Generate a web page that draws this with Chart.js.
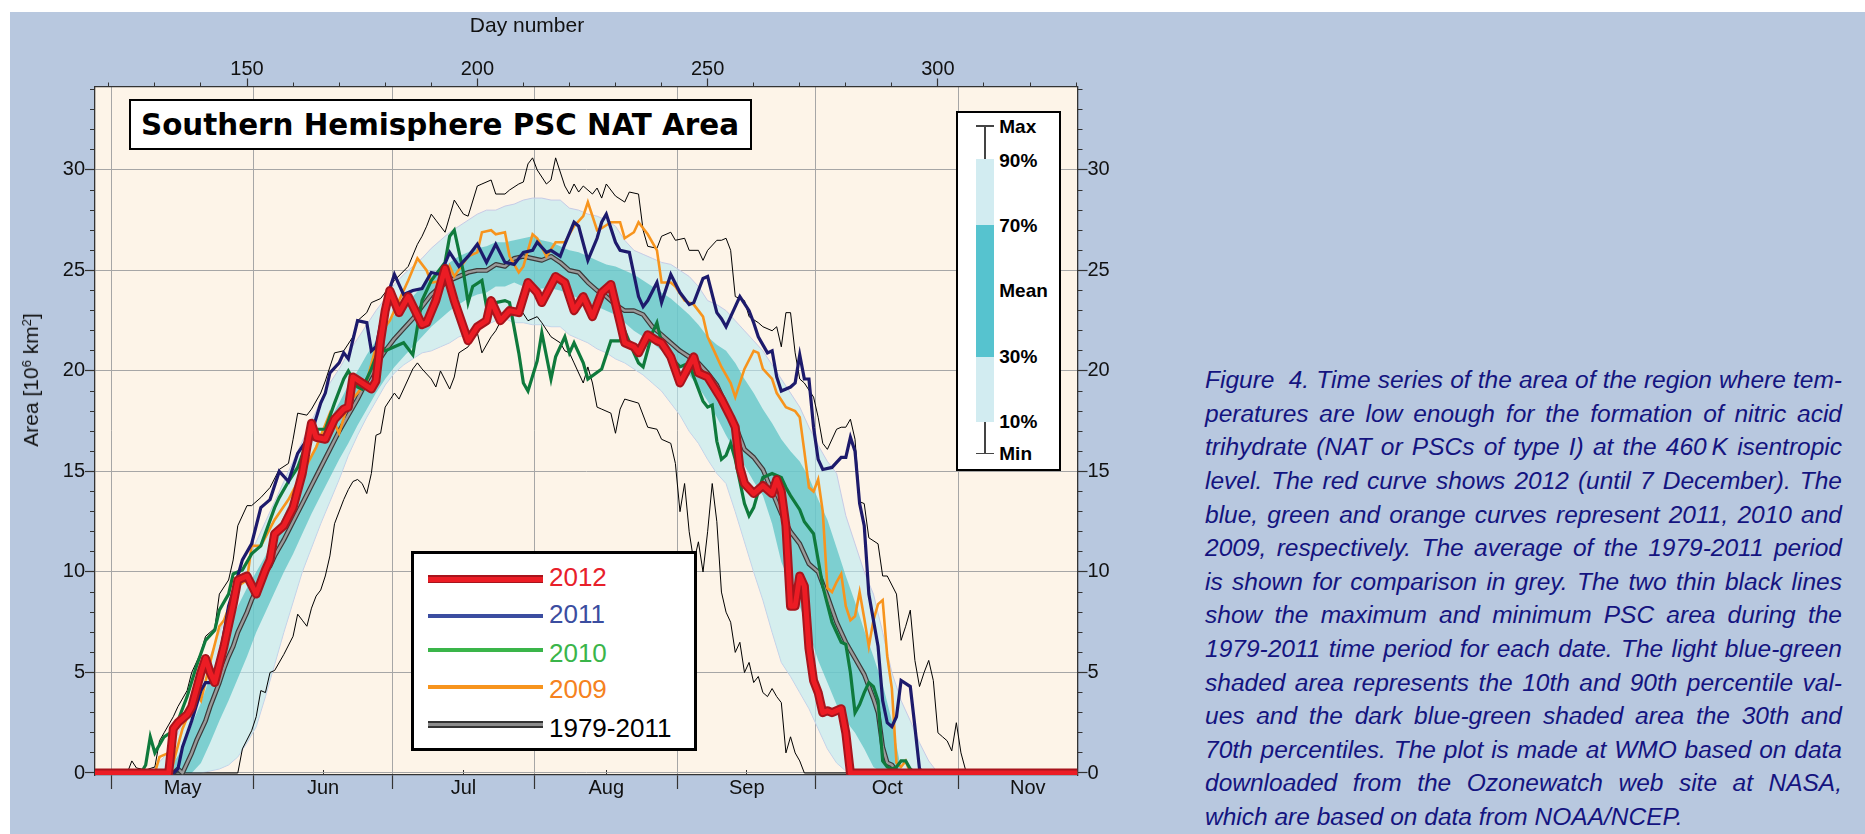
<!DOCTYPE html>
<html lang="en">
<head>
<meta charset="utf-8">
<title>Southern Hemisphere PSC NAT Area</title>
<script src="https://cdn.jsdelivr.net/npm/chart.js@4.4.1/dist/chart.umd.min.js"></script>
<style>
  html, body { margin: 0; padding: 0; background: #ffffff; }
  body { position: relative; width: 1865px; height: 834px; overflow: hidden; font-family: 'Liberation Sans', Arial, sans-serif; }
  #panel { position: absolute; left: 10px; top: 12px; width: 1855px; height: 822px; background: #b8c8df; }
  #chartWrap { position: absolute; left: 0; top: 0; width: 1130px; height: 834px; }
  .abs { position: absolute; }
  #dayTitle { left: 527px; top: 13px; transform: translateX(-50%); font-size: 21px; line-height: 24px; color: #111; white-space: nowrap; }
  #areaTitle { left: 31px; top: 380px; transform: translate(-50%, -50%) rotate(-90deg); font-size: 21px; line-height: 24px; color: #111; white-space: nowrap; }
  #areaTitle sup { font-size: 13px; vertical-align: 7px; line-height: 0; }
  #titleBox { left: 128.5px; top: 98.5px; width: 623px; height: 51px; box-sizing: border-box; border: 2px solid #000; background: #fff; overflow: hidden; }
  #titleText { position: absolute; left: 50%; top: 50%; transform-origin: 0 0; font-family: 'DejaVu Sans Condensed', 'DejaVu Sans', sans-serif; font-weight: bold; font-size: 31px; line-height: 31px; white-space: nowrap; color: #000; }
  #legend { left: 410.7px; top: 550.7px; width: 286.6px; height: 200px; box-sizing: border-box; border: 3px solid #000; background: #fff; }
  .sw { position: absolute; left: 14px; width: 115px; }
  .sw .in { position: absolute; left: 0; right: 0; }
  .lt { position: absolute; left: 135.3px; font-size: 26px; line-height: 26px; white-space: nowrap; }
  #pctLegend { left: 955.7px; top: 111px; width: 105px; height: 360px; box-sizing: border-box; border: 2px solid #000; background: #fff; }
  .pl { position: absolute; left: 41.6px; font-size: 19px; line-height: 19px; font-weight: bold; color: #000; white-space: nowrap; }
  #caption { left: 1205px; top: 363.3px; width: 637px; color: #14147f; font-style: italic; font-size: 24.5px; }
  #caption .ln { display: block; height: 33.6px; line-height: 33.6px; white-space: pre; }
</style>
</head>
<body>
<div id="panel"></div>
<div id="chartWrap"><canvas id="psc" width="1130" height="834"></canvas></div>

<div id="dayTitle" class="abs">Day number</div>
<div id="areaTitle" class="abs">Area [10<sup>6</sup> km<sup>2</sup>]</div>

<div id="titleBox" class="abs"><span id="titleText">Southern Hemisphere PSC NAT Area</span></div>

<div id="legend" class="abs">
  <div class="sw" style="top:21.6px;height:8px;background:#a8141c;"><div class="in" style="top:1.5px;height:5px;background:#ec1c24;"></div></div>
  <div class="sw" style="top:60.3px;height:4px;background:#3b4da0;"></div>
  <div class="sw" style="top:94.3px;height:4px;background:#3ab54a;"></div>
  <div class="sw" style="top:131px;height:4px;background:#f7941d;"></div>
  <div class="sw" style="top:167.8px;height:7px;background:#333333;"><div class="in" style="top:2px;height:3px;background:#8c8c8c;"></div></div>
  <div class="lt" style="top:10.3px;color:#e8202a;">2012</div>
  <div class="lt" style="top:47.6px;color:#3b4da0;">2011</div>
  <div class="lt" style="top:86px;color:#3ab54a;">2010</div>
  <div class="lt" style="top:122.6px;color:#f58220;">2009</div>
  <div class="lt" style="top:161px;color:#000;">1979-2011</div>
</div>

<div id="pctLegend" class="abs">
  <div class="abs" style="left:26.5px;top:13px;width:1.5px;height:327.3px;background:#444;"></div>
  <div class="abs" style="left:18.3px;top:12.3px;width:18px;height:1.5px;background:#444;"></div>
  <div class="abs" style="left:18.3px;top:339.6px;width:18px;height:1.5px;background:#444;"></div>
  <div class="abs" style="left:18.3px;top:46px;width:18px;height:262.7px;background:#d2ecf1;"></div>
  <div class="abs" style="left:18.3px;top:112px;width:18px;height:131.7px;background:#56c3cf;"></div>
  <div class="pl" style="top:3.6px;">Max</div>
  <div class="pl" style="top:37.6px;">90%</div>
  <div class="pl" style="top:102.6px;">70%</div>
  <div class="pl" style="top:167.6px;">Mean</div>
  <div class="pl" style="top:234.2px;">30%</div>
  <div class="pl" style="top:299.2px;">10%</div>
  <div class="pl" style="top:330.9px;">Min</div>
</div>

<div id="caption" class="abs">
<span class="ln">Figure  4. Time series of the area of the region where tem-</span>
<span class="ln">peratures are low enough for the formation of nitric acid</span>
<span class="ln">trihydrate (NAT or PSCs of type I) at the 460&#8201;K isentropic</span>
<span class="ln">level. The red curve shows 2012 (until 7 December). The</span>
<span class="ln">blue, green and orange curves represent 2011, 2010 and</span>
<span class="ln">2009, respectively. The average of the 1979-2011 period</span>
<span class="ln">is shown for comparison in grey. The two thin black lines</span>
<span class="ln">show the maximum and minimum PSC area during the</span>
<span class="ln">1979-2011 time period for each date. The light blue-green</span>
<span class="ln">shaded area represents the 10th and 90th percentile val-</span>
<span class="ln">ues and the dark blue-green shaded area the 30th and</span>
<span class="ln">70th percentiles. The plot is made at WMO based on data</span>
<span class="ln">downloaded from the Ozonewatch web site at NASA,</span>
<span class="ln">which are based on data from NOAA/NCEP.</span>
</div>

<script>
// ---- Axis definitions (day of year, area in million km²) ----
const monthLabels = ['May', 'Jun', 'Jul', 'Aug', 'Sep', 'Oct', 'Nov'];
const monthStartDays = [121, 152, 182, 213, 244, 274, 305, 335];
const dayLabelTicks = [150, 200, 250, 300];
const dayMinorTicks = [120, 130, 140, 150, 160, 170, 180, 190, 200, 210, 220, 230, 240, 250, 260, 270, 280, 290, 300, 310, 320, 330];
const areaLabelTicks = [0, 5, 10, 15, 20, 25, 30];
const areaMinorTicks = [0, 1, 2, 3, 4, 5, 6, 7, 8, 9, 10, 11, 12, 13, 14, 15, 16, 17, 18, 19, 20, 21, 22, 23, 24, 25, 26, 27, 28, 29, 30, 31, 32, 33, 34];

// ---- Daily PSC NAT area, [day, area] ----
const area2012 = [[117,0],[133,0],[134,2.2],[135,2.5],[137,2.9],[138,3.3],[140,5.0],[141,5.7],[142,5.0],[143,4.5],[145,6.3],[147,8.4],[148,9.6],[150,9.8],[152,8.9],[154,10.1],[155,10.6],[156,11.9],[158,12.3],[160,13.2],[162,14.9],[163,16.2],[164,17.4],[165,16.7],[167,16.6],[169,17.6],[171,18.1],[172,18.2],[173,19.7],[175,19.4],[177,19.1],[178,19.5],[179,21.5],[180,23.0],[181,24.0],[183,22.9],[185,23.7],[188,22.3],[189,22.4],[191,23.5],[193,25.1],[195,23.5],[198,21.5],[200,22.2],[202,22.5],[203,23.5],[205,22.5],[207,23.0],[209,22.9],[211,24.4],[213,23.9],[214,23.4],[217,24.7],[219,24.4],[221,23.0],[223,23.7],[225,22.7],[227,23.9],[229,24.3],[231,22.4],[232,21.4],[234,21.2],[235,20.9],[237,21.8],[239,21.5],[240,21.4],[242,20.7],[244,19.4],[247,20.7],[248,19.9],[250,19.7],[253,18.6],[255,17.7],[256,17.2],[257,15.2],[258,14.4],[260,13.9],[262,14.3],[264,13.9],[265,14.6],[266,14.0],[267,12.3],[268,8.3],[269,8.3],[270,9.8],[271,9.3],[272,6.2],[273,4.6],[274,4.0],[275,3.0],[276,3.1],[277,3.0],[279,3.2],[280,2.0],[281,0],[330.3,0]];

const area2011 = [[117,0],[134,0],[135,0.2],[136,1.3],[138,2.6],[140,4.1],[141,4.5],[142,4.5],[144,5.6],[146,8.3],[148,9.8],[149,10.6],[151,11.4],[153,13.2],[155,13.6],[157,15.0],[159,14.5],[161,15.9],[164,16.9],[166,18.4],[167,18.9],[168,19.9],[170,20.4],[171,20.9],[172,20.6],[174,22.5],[176,22.4],[177,21.0],[178,21.2],[180,23.4],[182,24.8],[184,23.8],[186,24.0],[188,24.1],[189,24.5],[190,24.9],[192,24.8],[194,25.9],[196,25.2],[198,25.7],[200,26.3],[202,25.4],[204,26.3],[206,25.4],[208,25.3],[210,25.9],[212,26.0],[213,26.4],[215,25.9],[216,26.0],[218,25.7],[219,26.3],[221,27.4],[222,27.2],[224,25.5],[226,26.6],[227,27.4],[228,27.8],[230,26.4],[231,26.0],[233,25.9],[235,23.7],[236,23.2],[237,23.5],[239,24.4],[240,23.4],[242,24.8],[244,23.9],[246,23.3],[247,23.4],[249,24.6],[250,24.7],[252,22.9],[253,22.6],[254,22.2],[256,23.2],[257,23.7],[259,23.0],[260,22.4],[261,21.7],[263,20.9],[264,21.0],[265,19.7],[266,19.0],[268,19.2],[269,19.4],[270,20.8],[271,19.6],[272,19.6],[273,17.2],[274,15.6],[275,15.1],[277,15.2],[279,15.7],[280,15.7],[281,16.7],[282,16.0],[283,13.4],[284,12.3],[285,8.9],[287,6.3],[288,3.6],[289,2.5],[290,2.3],[291,2.8],[292,4.6],[294,4.3],[295,2.3],[296,0.2],[297,0],[330.3,0]];

const area2010 = [[117,0],[127,0],[128,0.4],[129,1.8],[130,1.0],[132,1.8],[134,2.1],[135,2.6],[137,3.8],[139,5.3],[141,6.6],[143,7.1],[144,8.1],[146,8.9],[147,9.9],[149,10.1],[151,10.9],[153,11.3],[156,13.2],[157,13.7],[159,14.5],[161,15.2],[164,17.1],[167,17.1],[169,18.4],[171,19.6],[172,20.0],[174,19.2],[175,19.1],[177,20.1],[179,21.3],[180,21.0],[182,21.2],[184,21.4],[186,20.8],[187,22.2],[188,23.5],[190,24.5],[193,25.4],[194,26.7],[195,27.0],[197,24.9],[198,23.4],[199,24.2],[201,24.5],[202,23.2],[204,23.4],[206,23.5],[207,23.4],[209,20.9],[210,19.4],[211,19.0],[213,20.5],[214,21.9],[216,19.6],[217,20.7],[219,21.7],[220,20.9],[221,21.4],[223,20.4],[224,19.6],[227,20.1],[229,21.5],[231,21.5],[232,22.0],[234,20.9],[235,20.4],[236,20.2],[238,21.9],[239,22.4],[240,21.4],[242,20.7],[244,20.2],[246,20.4],[247,19.7],[249,18.5],[250,18.2],[251,18.3],[252,16.5],[253,15.6],[254,15.8],[255,16.4],[256,15.6],[257,14.5],[258,13.4],[259,12.8],[260,13.2],[261,14.0],[262,14.7],[264,14.9],[266,14.7],[267,14.2],[268,13.8],[270,13.1],[271,12.5],[273,11.9],[274,10.6],[275,9.3],[276,8.4],[277,7.5],[278,7.0],[279,6.5],[280,6.4],[281,5.0],[282,3.0],[283,3.4],[284,4.0],[285,4.5],[286,4.3],[287,3.6],[288,0.6],[289,0.3],[290,0.2],[291,0.3],[292,0.6],[293,0.6],[294,0.2],[295,0],[330.3,0]];

const area2009 = [[117,0],[130,0],[131,0.8],[133,1.0],[134,0.5],[136,2.2],[138,3.3],[139,4.0],[140,3.6],[142,5.5],[144,7.3],[145,7.6],[147,8.8],[148,9.3],[150,9.6],[151,11.3],[153,11.3],[156,12.6],[159,13.6],[162,14.9],[165,16.2],[168,17.9],[170,16.9],[172,18.4],[174,18.9],[176,19.5],[178,21.2],[180,22.2],[181,22.5],[183,23.5],[185,24.5],[187,25.6],[189,25.0],[190,24.4],[193,24.5],[194,25.2],[195,24.7],[198,25.7],[200,25.9],[201,26.9],[203,27.0],[204,26.8],[206,26.9],[207,25.7],[209,24.9],[210,25.2],[212,26.8],[213,26.6],[215,25.7],[217,26.4],[219,26.4],[221,27.2],[223,27.7],[224,28.4],[226,27.0],[227,27.1],[229,27.4],[231,27.4],[232,26.6],[234,26.9],[235,27.4],[237,26.8],[239,26.0],[240,24.4],[242,24.4],[243,24.2],[245,23.5],[247,23.3],[249,22.7],[250,21.7],[252,20.7],[253,20.2],[255,19.4],[256,18.7],[258,20.1],[260,21.0],[261,20.9],[262,20.1],[264,19.6],[265,18.9],[267,18.2],[269,18.0],[270,17.7],[271,16.0],[272,14.2],[273,14.0],[274,14.6],[275,13.0],[276,9.2],[277,9.0],[278,9.5],[279,9.9],[280,8.3],[281,7.6],[282,7.8],[283,9.0],[284,7.7],[285,6.3],[286,7.6],[287,8.4],[288,8.6],[289,5.8],[290,4.2],[291,0.5],[292,0.3],[293,0.6],[294,0],[330.3,0]];

// 1979-2011 statistics
const areaMean = [[117,0],[134,0],[135,0.2],[136,0],[137,0.5],[138,1.0],[139,1.6],[140,2.1],[141,2.6],[142,3.3],[143,3.9],[144,4.5],[145,5.2],[146,5.8],[147,6.3],[148,7.0],[149,7.5],[150,8.0],[151,8.6],[152,9.1],[153,9.6],[154,10.0],[155,10.3],[156,10.8],[158,11.6],[160,12.5],[162,13.4],[164,14.3],[166,15.2],[168,16.1],[170,17.0],[172,17.8],[174,18.6],[176,19.5],[178,20.3],[180,21.0],[182,21.6],[184,22.1],[186,22.6],[188,23.2],[190,23.8],[192,24.2],[194,24.5],[196,24.7],[198,24.9],[200,25.0],[202,25.0],[204,25.3],[206,25.2],[208,25.6],[210,25.7],[212,25.6],[214,25.5],[216,25.7],[218,25.4],[220,25.0],[222,24.9],[224,24.4],[226,24.0],[228,23.7],[230,23.3],[232,23.0],[234,23.0],[236,22.8],[238,22.2],[240,21.8],[242,21.4],[244,21.0],[246,20.7],[248,20.4],[250,19.9],[252,19.3],[254,18.3],[256,17.3],[258,16.1],[260,15.7],[262,15.1],[264,14.0],[266,12.9],[268,12.0],[270,11.4],[272,10.4],[274,10.0],[276,8.8],[278,7.5],[280,6.5],[282,5.7],[284,4.9],[286,3.7],[287,3.0],[288,1.3],[289,0.5],[290,0.4],[291,0.1],[292,0],[330.3,0]];

const areaMax = [[117,0],[124,0],[125,0.6],[126,0.25],[128,0.15],[130,0.3],[131,1.6],[132,2.0],[134,2.8],[135,3.3],[137,4.1],[138,5.0],[140,6.0],[141,6.8],[143,7.2],[144,8.9],[146,9.6],[147,10.6],[148,12.3],[150,13.3],[151,13.3],[153,13.7],[155,14.2],[157,15.1],[159,15.4],[160,16.6],[161,17.9],[163,17.8],[164,18.1],[166,18.9],[167,19.5],[169,20.9],[171,21.0],[173,21.7],[174,22.5],[176,22.9],[177,23.4],[179,23.6],[181,24.2],[182,24.5],[185,25.2],[187,26.3],[188,26.7],[189,27.2],[190,27.8],[191,27.5],[193,26.9],[194,27.7],[195,28.5],[197,27.8],[198,27.7],[200,29.2],[201,29.3],[203,29.5],[204,28.8],[206,28.8],[207,29.0],[209,29.3],[210,29.4],[211,30.3],[212,30.6],[213,30.0],[215,29.3],[216,29.5],[217,30.6],[219,29.2],[220,28.8],[221,29.3],[222,28.9],[223,29.2],[225,28.8],[226,29.1],[227,28.6],[228,29.3],[230,28.7],[232,28.4],[233,28.9],[235,28.8],[236,27.0],[237,26.2],[239,26.1],[240,26.7],[242,26.9],[243,26.5],[245,26.6],[246,26.0],[248,26.0],[249,25.5],[250,26.0],[252,26.5],[253,26.5],[254,26.6],[255,26.0],[256,23.7],[258,23.5],[259,22.7],[261,22.4],[262,22.2],[264,22.0],[265,22.2],[266,21.2],[267,22.9],[268,22.9],[269,20.9],[270,19.6],[271,19.4],[273,18.7],[274,17.7],[275,16.4],[276,16.1],[278,17.1],[279,17.2],[280,17.2],[281,17.6],[282,16.6],[283,13.5],[284,13.4],[285,11.7],[287,11.4],[288,9.8],[289,9.8],[291,8.9],[292,6.6],[293,7.3],[294,8.1],[295,5.6],[296,4.3],[297,5.0],[298,5.6],[299,4.6],[300,2.0],[301,1.8],[302,1.6],[303,1.1],[304,2.5],[305,1.0],[306,0.15],[307,0],[330.3,0]];

const areaMin = [[117,0],[148,0],[149,1.2],[151,2.1],[152,2.8],[153,4.1],[154,4.0],[155,5.0],[156,5.1],[158,5.9],[160,6.8],[161,7.9],[162,7.6],[163,7.3],[164,8.2],[165,8.8],[166,9.1],[167,9.8],[168,10.8],[169,12.4],[171,13.6],[172,14.1],[173,14.5],[174,14.6],[175,14.4],[176,13.9],[177,14.9],[178,16.8],[179,16.9],[180,18.2],[182,18.9],[183,18.6],[185,19.6],[186,20.1],[187,20.4],[188,20.1],[190,19.6],[191,19.2],[192,20.0],[194,19.1],[195,19.7],[196,20.9],[198,21.2],[200,21.9],[201,20.9],[203,21.7],[204,22.0],[206,22.9],[208,23.0],[209,23.2],[211,22.5],[213,22.7],[214,22.4],[216,21.7],[218,21.4],[219,21.0],[220,20.9],[221,20.4],[223,19.4],[224,20.2],[225,19.4],[226,18.2],[227,18.1],[229,17.9],[230,16.9],[231,18.1],[232,18.6],[235,18.4],[237,17.2],[239,17.1],[240,16.6],[242,16.4],[243,15.4],[244,13.0],[245,14.4],[246,12.0],[247,10.5],[248,11.5],[249,10.0],[250,12.0],[251,14.4],[252,12.5],[253,9.0],[254,8.0],[255,7.5],[256,6.0],[257,6.5],[258,5.0],[259,5.5],[260,4.5],[261,4.8],[262,4.0],[263,3.8],[264,4.2],[265,3.8],[266,3.5],[267,1.0],[268,1.8],[269,1.0],[270,0.6],[271,0],[330.3,0]];

// Percentiles on a two-day grid
const pctDays = [128,130,132,134,136,138,140,142,144,146,148,150,152,154,156,158,160,162,164,166,168,170,172,174,176,178,180,182,184,186,188,190,192,194,196,198,200,202,204,206,208,210,212,214,216,218,220,222,224,226,228,230,232,234,236,238,240,242,244,246,248,250,252,254,256,258,260,262,264,266,268,270,272,274,276,278,280,282,284,286,288,290,292,294,296,298,300];
const p90 = [0,0.3,0.8,1.5,2.5,3.5,4.6,5.8,7.0,8.2, 9.4,10.5,11.5,12.5,13.5,14.5,15.5,16.5,17.5,18.5, 19.4,20.1,20.9,21.6,22.3,23.0,23.6,24.3,24.8,25.2, 25.6,26.1,26.5,26.9,27.2,27.5,27.8,28.0,28.0,28.2, 28.3,28.5,28.6,28.6,28.5,28.5,28.1,28.0,27.8,27.7, 27.5,27.2,26.5,26.0,25.8,25.6,25.4,25.3,25.0,24.7, 24.2,23.5,23.3,23.0,22.5,22.0,21.5,21.0,20.3,19.6, 18.9,18.2,17.2,16.3,15.5,14.9,12.8,11.4,10.0,8.9, 7.0,5.0,3.6,2.6,1.5,0.6,0];
const p70 = [0,0,0.2,0.5,1.2,2.4,3.5,4.8,6.0,7.2, 8.3,9.2,10.0,10.8,11.8,12.8,13.8,14.8,15.8,16.8, 17.6,18.4,19.3,20.0,20.8,21.5,22.2,22.8,23.3,23.7, 24.2,24.7,25.1,25.4,25.7,25.9,26.1,26.2,26.4,26.4, 26.5,26.6,26.7,26.5,26.4,26.2,26.0,25.9,25.7,25.5, 25.3,25.2,25.0,24.8,24.5,24.2,23.9,23.6,23.2,22.8, 22.3,21.7,21.3,21.0,20.4,19.6,18.9,18.1,17.4,16.6, 16.0,15.5,14.7,13.6,12.6,11.2,9.8,8.5,7.1,5.8, 4.4,2.6,0.2,0,0,0,0];
const p30 = [0,0,0,0,0,0,0.5,1.5,2.6,3.6, 4.7,5.8,7.0,8.0,9.0,10.0,10.9,11.9,12.9,13.8, 14.7,15.6,16.4,17.3,18.1,18.9,19.6,20.2,20.7,21.2, 21.7,22.2,22.6,23.0,23.3,23.6,23.8,23.9,24.2,24.2, 24.4,24.2,24.0,24.1,24.1,24.0,23.8,23.6,23.4,23.2, 23.0,22.8,22.4,22.0,21.7,21.4,21.0,20.6,20.2,19.8, 19.2,18.5,17.7,16.8,16.0,15.3,14.5,13.8,12.4,10.5, 9.4,8.3,7.0,5.6,4.5,3.4,2.6,2.0,1.2,0.3, 0,0,0,0,0,0,0];
const p10 = [0,0,0,0,0,0,0,0.1,0.2,0.4, 0.8,1.5,2.3,3.8,5.4,7.0,8.5,10.0,11.2,12.4, 13.5,14.6,15.8,16.8,17.7,18.5,19.3,19.9,20.3,20.6, 20.9,21.0,21.2,21.4,21.7,21.8,22.0,22.3,22.5,22.6, 22.4,22.4,22.3,22.3,22.2,22.2,21.8,21.6,21.4,21.1, 20.9,20.6,20.4,20.1,19.8,19.4,19.0,18.4,17.8,17.0, 16.4,15.6,14.9,14.4,13.0,11.5,10.0,8.6,7.0,5.5, 4.8,4.0,3.2,2.2,1.2,0.5,0.1,0,0,0, 0,0,0,0,0,0,0];

// ---- Chart construction ----
const X_MIN = 117, X_MAX = 330.3;
const Y_MIN = -0.1, Y_MAX = 34.15;

const monthBounds = monthStartDays.slice(0, 7).map(d => d - 0.5);
const monthCentres = monthStartDays.slice(0, 7).map((d, i) => (d + monthStartDays[i + 1]) / 2 - 0.5);

const pairsToPoints = pairs => pairs.map(([d, v]) => ({ x: d, y: v }));
const pctToPoints = vals => pctDays.map((d, i) => ({ x: d, y: vals[i] }));

const line = (data, color, width, extra) => Object.assign({
  data, borderColor: color, borderWidth: width, pointRadius: 0, tension: 0, fill: false
}, extra || {});

// listed from top-most to bottom-most layer
const datasets = [
  line(pairsToPoints(area2012), '#ec1c24', 5, { borderJoinStyle: 'round' }),
  line(pairsToPoints(area2012), '#a8141c', 9, { borderJoinStyle: 'round' }),
  line(pairsToPoints(area2011), '#1d1a6c', 3.2),
  line(pairsToPoints(area2010), '#0f7a3c', 3.2),
  line(pairsToPoints(area2009), '#f7941d', 2.6),
  line(pairsToPoints(areaMean), '#9a9a9a', 2.4, { borderJoinStyle: 'round' }),
  line(pairsToPoints(areaMean), '#3a3a3a', 4.8, { borderJoinStyle: 'round' }),
  line(pairsToPoints(areaMax), '#000000', 1),
  line(pairsToPoints(areaMin), '#000000', 1),
  line(pctToPoints(p70), 'rgba(0,0,0,0)', 0, { fill: '+1', backgroundColor: 'rgba(87,194,195,0.7)' }),
  line(pctToPoints(p30), 'rgba(0,0,0,0)', 0),
  line(pctToPoints(p90), '#c7cbe6', 1, { fill: '+1', backgroundColor: 'rgba(186,234,242,0.6)' }),
  line(pctToPoints(p10), '#c7cbe6', 1)
];

const plotBackground = {
  id: 'plotBackground',
  beforeDraw(chart) {
    const { ctx, chartArea: a } = chart;
    ctx.save();
    ctx.fillStyle = '#fdf4e8';
    ctx.fillRect(a.left, a.top, a.right - a.left, a.bottom - a.top);
    ctx.restore();
  }
};

const tickFont = { family: "'Liberation Sans', Arial, sans-serif", size: 20 };
const setTicks = vals => axis => { axis.ticks = vals.map(v => ({ value: v })); };
const fixWidth = w => axis => { axis.width = w; };
const fixHeight = h => axis => { axis.height = h; };
const frame = { display: true, color: '#333333', width: 1.3 };
const noFrame = { display: false };

new Chart(document.getElementById('psc'), {
  type: 'line',
  data: { datasets },
  options: {
    responsive: false,
    animation: false,
    events: [],
    layout: { padding: 0, autoPadding: false },
    plugins: { legend: { display: false }, tooltip: { enabled: false }, title: { display: false } },
    scales: {
      x: {
        type: 'linear', position: 'bottom', weight: 0, min: X_MIN, max: X_MAX,
        afterBuildTicks: setTicks(monthBounds), afterFit: fixHeight(0),
        ticks: { display: false },
        grid: { color: '#a6a6a6', lineWidth: 1, drawTicks: true, tickLength: 14, tickColor: '#333333', tickWidth: 1.2 },
        border: frame
      },
      xMonths: {
        type: 'linear', position: 'bottom', weight: 1, min: X_MIN, max: X_MAX,
        afterBuildTicks: setTicks(monthCentres), afterFit: fixHeight(59),
        ticks: { font: tickFont, color: '#111111', padding: 6, maxRotation: 0, minRotation: 0, autoSkip: false,
                 callback: (v, i) => monthLabels[i] },
        // short inward marks at mid-month
        grid: { display: true, drawOnChartArea: false, drawTicks: true, tickLength: -5, tickColor: '#333333', tickWidth: 1 },
        border: noFrame
      },
      xDay: {
        type: 'linear', position: 'top', weight: 1, min: X_MIN, max: X_MAX,
        afterBuildTicks: setTicks(dayLabelTicks), afterFit: fixHeight(86.5),
        ticks: { font: tickFont, color: '#111111', padding: -3, maxRotation: 0, minRotation: 0, autoSkip: false },
        grid: { drawOnChartArea: false, drawTicks: true, tickLength: 8, tickColor: '#333333', tickWidth: 1.2 },
        border: frame
      },
      xDayMinor: {
        type: 'linear', position: 'top', weight: 0, min: X_MIN, max: X_MAX,
        afterBuildTicks: setTicks(dayMinorTicks), afterFit: fixHeight(0),
        ticks: { display: false },
        grid: { drawOnChartArea: false, drawTicks: true, tickLength: 4, tickColor: '#333333' },
        border: noFrame
      },
      y: {
        type: 'linear', position: 'left', weight: 1, min: Y_MIN, max: Y_MAX,
        afterBuildTicks: setTicks(areaLabelTicks), afterFit: fixWidth(95),
        ticks: { font: tickFont, color: '#111111', padding: 0 },
        grid: { color: '#a6a6a6', lineWidth: 1, drawTicks: true, tickLength: 10, tickColor: '#333333', tickWidth: 1.2 },
        border: frame
      },
      yMinor: {
        type: 'linear', position: 'left', weight: 0, min: Y_MIN, max: Y_MAX,
        afterBuildTicks: setTicks(areaMinorTicks), afterFit: fixWidth(0),
        ticks: { display: false },
        grid: { drawOnChartArea: false, drawTicks: true, tickLength: 5, tickColor: '#333333' },
        border: noFrame
      },
      yRight: {
        type: 'linear', position: 'right', weight: 1, min: Y_MIN, max: Y_MAX,
        afterBuildTicks: setTicks(areaLabelTicks), afterFit: fixWidth(52.5),
        ticks: { font: tickFont, color: '#111111', padding: 0 },
        grid: { drawOnChartArea: false, drawTicks: true, tickLength: 10, tickColor: '#333333', tickWidth: 1.2 },
        border: frame
      },
      yRightMinor: {
        type: 'linear', position: 'right', weight: 0, min: Y_MIN, max: Y_MAX,
        afterBuildTicks: setTicks(areaMinorTicks), afterFit: fixWidth(0),
        ticks: { display: false },
        grid: { drawOnChartArea: false, drawTicks: true, tickLength: 5, tickColor: '#333333' },
        border: noFrame
      }
    }
  },
  plugins: [plotBackground]
});

// ---- Title fitted to its box ----
(function fitTitle() {
  const t = document.getElementById('titleText');
  const w = t.getBoundingClientRect().width;
  const h = t.getBoundingClientRect().height;
  const sx = 598 / w;
  t.style.transform = 'scaleX(' + sx + ') translate(' + (-w / 2) + 'px,' + (-h / 2) + 'px)';
})();

// ---- Justified caption lines ----
(function justifyCaption() {
  const lines = document.querySelectorAll('#caption .ln');
  const target = 637;
  lines.forEach((ln, i) => {
    if (i === lines.length - 1) return;
    const span = document.createElement('span');
    span.textContent = ln.textContent;
    span.style.whiteSpace = 'pre';
    ln.textContent = '';
    ln.appendChild(span);
    const w = span.getBoundingClientRect().width;
    const spaces = (span.textContent.match(/ /g) || []).length;
    if (spaces > 0) span.style.wordSpacing = ((target - w) / spaces) + 'px';
  });
})();
</script>
</body>
</html>
